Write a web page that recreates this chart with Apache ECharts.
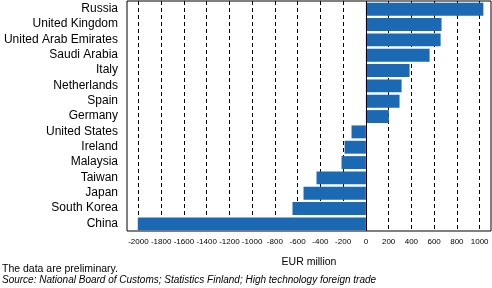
<!DOCTYPE html>
<html>
<head>
<meta charset="utf-8">
<script src="https://cdn.jsdelivr.net/npm/echarts@6/dist/echarts.min.js"></script>
<style>html,body{margin:0;padding:0;background:#fff}#c{width:492px;height:288px}</style>
</head>
<body>
<div id="c"></div>
<script>
const categories = ['Russia','United Kingdom','United Arab Emirates','Saudi Arabia','Italy','Netherlands','Spain','Germany','United States','Ireland','Malaysia','Taiwan','Japan','South Korea','China'];
const values = [1033, 665, 657, 560, 384, 314, 296, 202, -126, -187, -214, -434, -548, -645, -2005];
const tickValues = [-2000,-1800,-1600,-1400,-1200,-1000,-800,-600,-400,-200,0,200,400,600,800,1000];
const axisName = 'EUR million';
const note1 = 'The data are preliminary.';
const note2 = 'Source: National Board of Customs; Statistics Finland; High technology foreign trade';

const FONT = "'Liberation Sans', Arial, sans-serif";
const chart = echarts.init(document.getElementById('c'), null, {renderer: 'canvas'});
chart.setOption({
  animation: false,
  textStyle: {fontFamily: FONT},
  grid: {left: 127, right: 1, top: 1, bottom: 57, show: true, borderColor: '#000', borderWidth: 1, backgroundColor: 'transparent'},
  xAxis: {
    type: 'value', min: -2100, max: 1100,
    axisLine: {show: false},
    axisTick: {show: false, customValues: tickValues},
    axisLabel: {customValues: tickValues, fontSize: 8, color: '#000', margin: 7, fontFamily: FONT,
      formatter: v => String(v)},
    splitLine: {show: false},
    name: axisName, nameLocation: 'middle', nameGap: 26,
    nameTextStyle: {fontSize: 10.5, color: '#000', fontFamily: FONT}
  },
  yAxis: {
    type: 'category', inverse: true, data: categories,
    axisLine: {show: false, onZero: false},
    axisTick: {show: false},
    axisLabel: {fontSize: 12, color: '#000', margin: 9, interval: 0, fontFamily: FONT},
    splitLine: {show: false}
  },
  series: [
    {
      type: 'bar', data: [], z: 1, silent: true,
      markLine: {
        silent: true, symbol: 'none', label: {show: false}, z: 1,
        lineStyle: {color: '#000', type: [4, 3], width: 1},
        data: tickValues.filter(v => v !== 0).map(v => ({xAxis: v}))
      }
    },
    {
      type: 'bar', data: values, barWidth: '84%', z: 3,
      itemStyle: {color: '#1b68b3'},
      markLine: {
        silent: true, symbol: 'none', label: {show: false}, z: 5,
        lineStyle: {color: '#000', type: 'solid', width: 1},
        data: [{xAxis: 0}]
      }
    }
  ],
  graphic: [
    {type: 'text', left: 2, top: 264, style: {text: note1, font: '10.5px ' + FONT, fill: '#000'}},
    {type: 'text', left: 2, top: 275, style: {text: note2, font: 'italic 10px ' + FONT, fill: '#000'}}
  ]
});
</script>
</body>
</html>
